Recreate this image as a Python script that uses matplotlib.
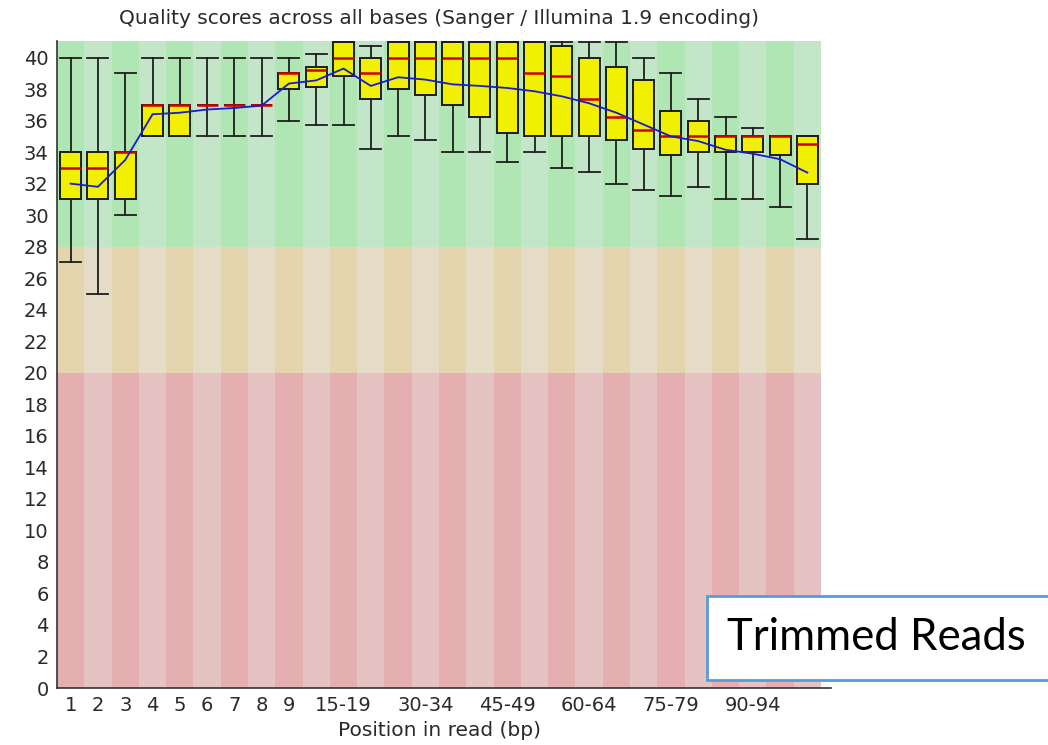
import numpy as np
import matplotlib
matplotlib.use("Agg")
import matplotlib.pyplot as plt
from matplotlib.patches import Rectangle

# position groups (FastQC per base sequence quality, trimmed reads)
positions = ["1", "2", "3", "4", "5", "6", "7", "8", "9",
             "10-14", "15-19", "20-24", "25-29", "30-34", "35-39", "40-44",
             "45-49", "50-54", "55-59", "60-64", "65-69", "70-74", "75-79",
             "80-84", "85-89", "90-94", "95-99", "100-101"]
shown_labels = ["1", "2", "3", "4", "5", "6", "7", "8", "9",
                "15-19", "30-34", "45-49", "60-64", "75-79", "90-94"]

p90 = [40, 40, 39, 40, 40, 40, 40, 40, 40, 40.2, 41, 40.75, 41, 41,
       41, 41, 41, 41, 41, 41, 41, 40, 39, 37.4, 36.2, 35.55, 35, 35]
q75 = [34, 34, 34, 37, 37, 37, 37, 37, 39, 39.4, 41, 40, 41, 41,
       41, 41, 41, 41, 40.75, 40, 39.4, 38.6, 36.6, 36, 35, 35, 35, 35]
median = [33, 33, 34, 37, 37, 37, 37, 37, 39, 39.2, 40, 39, 40, 40,
          40, 40, 40, 39, 38.8, 37.4, 36.2, 35.4, 35, 35, 35, 35, 35, 34.5]
q25 = [31, 31, 31, 35, 35, 37, 37, 37, 38, 38.1, 38.8, 37.4, 38, 37.6,
       37, 36.2, 35.2, 35, 35, 35, 34.8, 34.2, 33.8, 34, 34, 34, 33.8, 32]
p10 = [27, 25, 30, 35, 35, 35, 35, 35, 36, 35.75, 35.75, 34.2, 35, 34.8,
       34, 34, 33.4, 34, 33, 32.75, 32, 31.6, 31.2, 31.8, 31, 31, 30.5, 28.5]
mean = [32.0, 31.8, 33.5, 36.4, 36.5, 36.7, 36.8, 36.95, 38.35, 38.55, 39.3,
        38.2, 38.75, 38.6, 38.3, 38.2, 38.07, 37.86, 37.54, 37.1, 36.5, 35.75,
        35.0, 34.7, 34.15, 33.9, 33.55, 32.7]

plt.rcParams['font.family'] = ['DejaVu Sans']

fig = plt.figure(figsize=(10.48, 7.45), dpi=100)
ax = fig.add_axes([57 / 1048, 57 / 745, 764 / 1048, 647 / 745])

n = len(positions)
x = np.arange(1, n + 1)

# background bands: good / warn / bad, alternating shade per column
bands = [(28, 41.05, ("#b0e5b4", "#c4e6c8")),
         (20, 28, ("#e5d5ae", "#e5dbc7")),
         (0, 20, ("#e5afb1", "#e5c3c3"))]
for lo, hi, cols in bands:
    for i in range(n):
        ax.add_patch(Rectangle((i + 0.5, lo), 1, hi - lo,
                               facecolor=cols[i % 2], edgecolor="none", zorder=0))

stats = []
for i in range(n):
    stats.append(dict(med=median[i], q1=q25[i], q3=q75[i],
                      whislo=p10[i], whishi=p90[i], fliers=[]))

ax.bxp(stats, positions=x, widths=0.77, capwidths=0.77, patch_artist=True,
       showfliers=False,
       boxprops=dict(facecolor="#f0f000", edgecolor="#1e1e1e", linewidth=1.4),
       medianprops=dict(color="#d00000", linewidth=1.8),
       whiskerprops=dict(color="#1e1e1e", linewidth=1.3),
       capprops=dict(color="#1e1e1e", linewidth=1.3))

ax.plot(x, mean, color="#1a1ad0", linewidth=1.3, zorder=5)

ax.set_xlim(0.5, n + 0.5)
ax.set_ylim(0, 41.05)
ax.set_yticks(np.arange(0, 41, 2))
ax.set_xticks([x[positions.index(s)] for s in shown_labels])
ax.set_xticklabels(shown_labels)
ax.tick_params(length=0, labelsize=14, colors="#2a2a2a", pad=6)
for sp in ["top", "right"]:
    ax.spines[sp].set_visible(False)
for sp in ["left", "bottom"]:
    ax.spines[sp].set_color("#333333")
    ax.spines[sp].set_linewidth(1.2)
ax.spines["bottom"].set_bounds(0.5, n + 0.85)
ax.set_title("Quality scores across all bases (Sanger / Illumina 1.9 encoding)",
             fontsize=14.5, color="#2a2a2a", pad=12)
ax.set_xlabel("Position in read (bp)", fontsize=14.5, color="#2a2a2a", labelpad=4)

# overlay label box
fig.patches.append(Rectangle((707 / 1048, 65 / 745), 0.5, 84 / 745,
                             transform=fig.transFigure, facecolor="white",
                             edgecolor="#5b9bd5", linewidth=2, zorder=10))
fig.text(727 / 1048, 107 / 745, "Trimmed Reads", family=["Lato", "DejaVu Sans"],
         fontsize=31.5, va="center", ha="left", color="black", zorder=11)

fig.savefig("out.png", dpi=100)
